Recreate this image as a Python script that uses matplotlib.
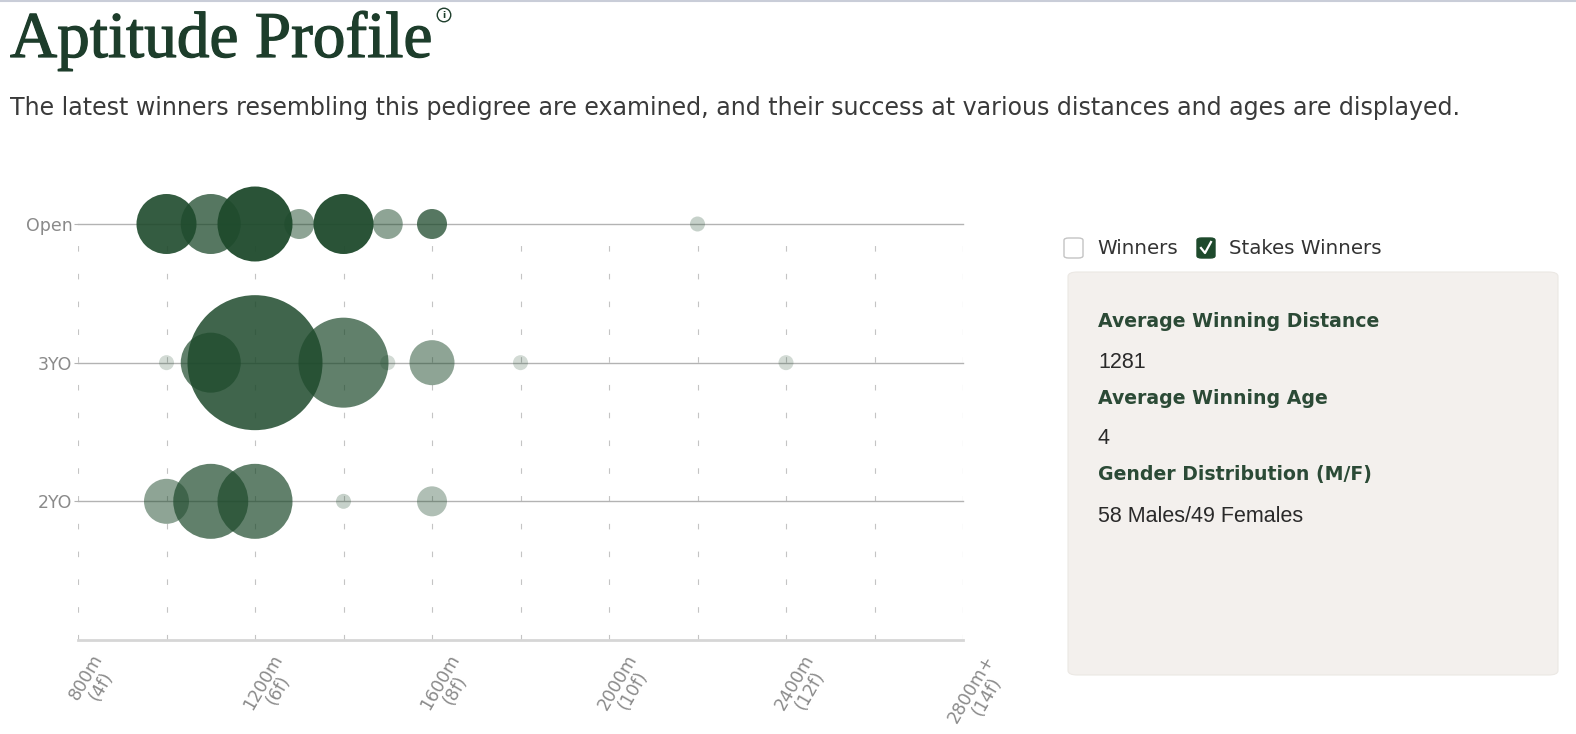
import matplotlib
matplotlib.use("Agg")
import matplotlib.pyplot as plt
import matplotlib.patheffects as pe
from matplotlib.patches import FancyBboxPatch
from matplotlib.lines import Line2D
from matplotlib.transforms import ScaledTranslation

# ---- data ----
ages = ["2YO", "3YO", "Open"]
dist_ticks = [800, 1200, 1600, 2000, 2400, 2800]
dist_labels = ["800m\n(4f)", "1200m\n(6f)", "1600m\n(8f)", "2000m\n(10f)",
               "2400m\n(12f)", "2800m+\n(14f)"]

open_dist = [1000, 1100, 1200, 1300, 1400, 1500, 1600, 2200]
open_count = [4, 4, 5, 2, 4, 2, 2, 1]
open_share = [0.9, 0.75, 0.95, 0.5, 0.95, 0.5, 0.75, 0.25]

yo3_dist = [1000, 1100, 1200, 1400, 1500, 1600, 1800, 2400]
yo3_count = [1, 4, 9, 6, 1, 3, 1, 1]
yo3_share = [0.2, 0.7, 0.85, 0.7, 0.2, 0.5, 0.2, 0.2]

yo2_dist = [1000, 1100, 1200, 1400, 1600]
yo2_count = [3, 5, 5, 1, 2]
yo2_share = [0.5, 0.7, 0.7, 0.25, 0.35]

stats = [("Average Winning Distance", "1281"),
         ("Average Winning Age", "4"),
         ("Gender Distribution (M/F)", "58 Males/49 Females")]

GREEN = "#1e4a2c"
W, H = 1576, 734

fig = plt.figure(figsize=(W / 100, H / 100), dpi=100)
fig.patch.set_facecolor("white")

def fx(px):
    return px / W

def fy(py):
    return 1 - py / H

# thin top border
fig.add_artist(Line2D([0, 1], [fy(1), fy(1)], color="#c9cdd8", lw=1.5))

# title + subtitle (a thin stroke makes the serif a bit heavier)
fig.text(fx(10), fy(57), "Aptitude Profile", family="Liberation Serif",
         fontsize=47, color="#1d3d2b", va="baseline",
         path_effects=[pe.withStroke(linewidth=0.9, foreground="#1d3d2b")])
# little info mark next to the title
fig.text(fx(444), fy(15), "i", family="DejaVu Sans", fontsize=6.5,
         fontweight="bold", color="#1d3d2b", ha="center", va="center",
         bbox=dict(boxstyle="circle,pad=0.25", fc="white", ec="#1d3d2b", lw=1))
fig.text(fx(10), fy(115), "The latest winners resembling this pedigree are examined, "
         "and their success at various distances and ages are displayed.",
         family="DejaVu Sans", fontsize=17.1, color="#3a3a3a", va="baseline")

# ---- bubble chart ----
ax = fig.add_axes([fx(78), fy(640), fx(963 - 78), (640 - 224) / H])
ax.set_xlim(800, 2800)
ax.set_ylim(0, 3)

for x in range(800, 2801, 200):
    ax.axvline(x, color="#c4c4c4", lw=0.8, ls=(0, (5, 20)), zorder=0)
for y in (1, 2, 3):
    ax.axhline(y, color="#b3b3b3", lw=1, zorder=1, clip_on=False)

rows = [(1, yo2_dist, yo2_count, yo2_share),
        (2, yo3_dist, yo3_count, yo3_share),
        (3, open_dist, open_count, open_share)]
for y, d, c, a in rows:
    for xi, ci, ai in zip(d, c, a):
        ax.scatter(xi, y, s=(10.8 * ci) ** 2, color=GREEN, alpha=ai,
                   edgecolors="none", zorder=3, clip_on=False)

for s in ("top", "right", "left"):
    ax.spines[s].set_visible(False)
ax.spines["bottom"].set_color("#d6d6d6")
ax.spines["bottom"].set_linewidth(2)

ax.set_yticks([1, 2, 3])
ax.set_yticklabels(ages, fontsize=12.5, color="#8a8a8a")
ax.tick_params(axis="y", length=3, color="#b3b3b3", pad=1)
ax.set_xticks(dist_ticks)
ax.set_xticklabels(dist_labels, rotation=60, fontsize=12.5, color="#8a8a8a",
                   ha="center", va="top", linespacing=0.95)
ax.tick_params(axis="x", length=0, pad=8)
shift = ScaledTranslation(0.16, 0, fig.dpi_scale_trans)
for lab in ax.get_xticklabels():
    lab.set_transform(lab.get_transform() + shift)

# ---- right panel ----
# checkboxes
fig.add_artist(FancyBboxPatch((fx(1064), fy(258)), fx(19), 20 / H,
                              boxstyle="round,pad=0,rounding_size=0.003",
                              fc="white", ec="#c4c4c4", lw=1))
fig.text(fx(1097), fy(248), "Winners", family="DejaVu Sans", fontsize=14.3,
         color="#333333", va="center")
fig.add_artist(FancyBboxPatch((fx(1197), fy(258)), fx(18), 20 / H,
                              boxstyle="round,pad=0,rounding_size=0.003",
                              fc=GREEN, ec=GREEN, lw=1))
fig.add_artist(Line2D([fx(1201), fx(1205), fx(1211)], [fy(248), fy(253), fy(242)],
                      color="white", lw=1.6))
fig.text(fx(1229), fy(248), "Stakes Winners", family="DejaVu Sans", fontsize=14.3,
         color="#333333", va="center")

# info box
fig.add_artist(FancyBboxPatch((fx(1068), fy(675)), fx(1558 - 1068), (675 - 272) / H,
                              boxstyle="round,pad=0,rounding_size=0.006",
                              fc="#f3f0ed", ec="#ebe8e4", lw=0.8))
ypos = 321
for head, val in stats:
    fig.text(fx(1098), fy(ypos), head, family="DejaVu Sans", fontweight="bold",
             fontsize=13.6, color="#2b4a36", va="center")
    fig.text(fx(1098), fy(ypos + 41), val, family="Liberation Sans",
             fontsize=15.5, color="#2a2a2a", va="center")
    ypos += 77

fig.savefig("out.png", dpi=100)
